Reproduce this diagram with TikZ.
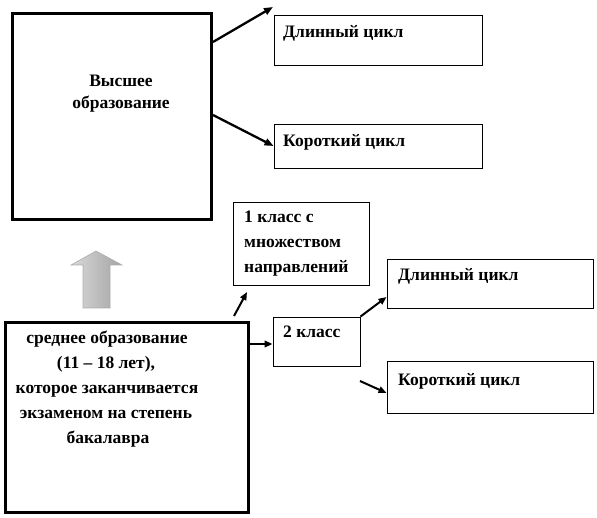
\documentclass[tikz,border=0pt]{standalone}
\usepackage{fontspec}
\setmainfont{Liberation Serif}
\usetikzlibrary{arrows.meta}
\begin{document}
\begin{tikzpicture}[x=1pt,y=-1pt,
  bigbox/.style={draw=black,line width=3pt,inner sep=0pt},
  smallbox/.style={draw=black,line width=0.9pt,inner sep=0pt},
  txt/.style={inner sep=0pt,font=\fontsize{17.5}{20}\selectfont\bfseries},
  arr/.style={line width=2.3pt,-{Triangle[length=9pt,width=7pt]}},
  arrs/.style={line width=2pt,-{Triangle[length=8pt,width=6.5pt]}}]
\useasboundingbox (0,0) rectangle (597,518);
% boxes
\node[bigbox,minimum width=199pt,minimum height=206pt] (hi) at (112,117) {};
\node[bigbox,minimum width=243pt,minimum height=189pt] (sec) at (126.5,417.5) {};
\node[smallbox,minimum width=208pt,minimum height=50pt] (dl1) at (378,40) {};
\node[smallbox,minimum width=208pt,minimum height=44pt] (kc1) at (378,146) {};
\node[smallbox,minimum width=136pt,minimum height=83pt] (k1) at (301,243.5) {};
\node[smallbox,minimum width=87pt,minimum height=49pt] (k2) at (316.5,341.5) {};
\node[smallbox,minimum width=206pt,minimum height=49pt] (dl2) at (490,283.5) {};
\node[smallbox,minimum width=206pt,minimum height=52pt] (kc2) at (490,387) {};
% texts
\node[txt,anchor=base] (hit1) at (121,87) {Высшее};
\node[txt,anchor=base] (hit2) at (121,109) {образование};
\node[txt,anchor=base west] (dl1t) at (283,38) {Длинный цикл};
\node[txt,anchor=base west] (kc1t) at (283,147) {Короткий цикл};
\node[txt,anchor=base west] (k1t1) at (244,223) {1 класс с};
\node[txt,anchor=base west] (k1t2) at (244,248) {множеством};
\node[txt,anchor=base west] (k1t3) at (244,273) {направлений};
\node[txt,anchor=base west] (k2t) at (283,338) {2 класс};
\node[txt,anchor=base west] (dl2t) at (398,281) {Длинный цикл};
\node[txt,anchor=base west] (kc2t) at (398,385) {Короткий цикл};
\node[txt,anchor=base] (st1) at (107,344) {среднее образование};
\node[txt,anchor=base] (st2) at (106,368.5) {(11 – 18 лет),};
\node[txt,anchor=base] (st3) at (107,393.5) {которое заканчивается};
\node[txt,anchor=base] (st4) at (106,418) {экзаменом на степень};
\node[txt,anchor=base] (st5) at (108,443) {бакалавра};
% free arrow ends
\coordinate (a1e) at (273,7);
\coordinate (a3s) at (234,316);
\coordinate (a3e) at (247,292);
\coordinate (a6s) at (360,381);
% arrows
\draw[arr] (hi.east |- 0,42) -- (a1e);
\draw[arr] (hi.east |- 0,115) -- (kc1.west |- 0,146);
\draw[arrs] (a3s) -- (a3e);
\draw[arrs] (sec.east |- 0,344) -- (k2.west |- 0,344);
\draw[arrs] (k2.north east) -- (dl2.west |- 0,297);
\draw[arrs] (a6s) -- (kc2.west |- 0,393);
% grey up arrow
\shade[left color=gray!30,right color=gray!72,draw=gray!65,line width=0.6pt]
  (96,251) -- (122,265) -- (110,265) -- (110,308) -- (83,308) -- (83,265) -- (71,265) -- cycle;
\end{tikzpicture}
\end{document}
